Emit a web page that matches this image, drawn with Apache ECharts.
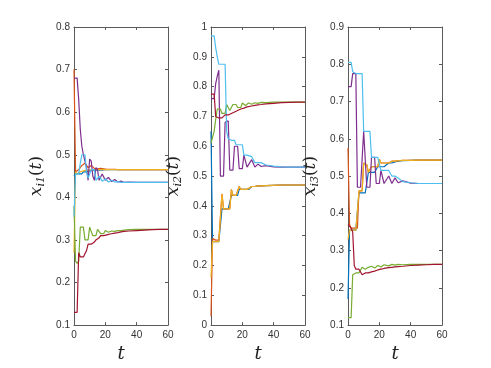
<!DOCTYPE html>
<html>
<head>
<meta charset="utf-8">
<script src="https://cdn.jsdelivr.net/npm/echarts@6/dist/echarts.min.js"></script>
<style>
  html, body { margin: 0; padding: 0; background: #fff; }
  #chart { width: 491px; height: 368px; }
</style>
</head>
<body>
<div id="chart"></div>
<script>
// sample times shared by every curve
const T = [0,1,2,3,4,5,6,7,8,9,10,11,12,13,14,15,16,17,18,19,20,21,22,23,24,26,28,30,32,35,40,45,50,55,60];

// panel 1: x_i1(t)
const x1Blue   = [0.45,0.455,0.455,0.455,0.455,0.455,0.46,0.46,0.46,0.462,0.462,0.463,0.463,0.463,0.464,0.464,0.464,0.464,0.464,0.465,0.465,0.465,0.465,0.465,0.465,0.465,0.465,0.465,0.465,0.465,0.465,0.465,0.465,0.465,0.465];
const x1Orange = [0.70,0.46,0.46,0.465,0.47,0.475,0.478,0.48,0.475,0.47,0.47,0.475,0.472,0.468,0.467,0.467,0.466,0.468,0.47,0.467,0.466,0.466,0.466,0.466,0.465,0.466,0.465,0.465,0.465,0.465,0.465,0.465,0.465,0.465,0.465];
const x1Yellow = [0.27,0.46,0.455,0.455,0.46,0.46,0.462,0.463,0.464,0.464,0.464,0.465,0.465,0.465,0.465,0.465,0.465,0.465,0.465,0.465,0.465,0.465,0.465,0.465,0.465,0.465,0.465,0.465,0.465,0.465,0.465,0.465,0.465,0.465,0.465];
const x1Purple = [0.68,0.68,0.68,0.63,0.56,0.52,0.50,0.50,0.47,0.44,0.49,0.485,0.45,0.44,0.47,0.465,0.44,0.44,0.455,0.455,0.44,0.438,0.447,0.445,0.437,0.442,0.436,0.438,0.435,0.436,0.435,0.435,0.435,0.435,0.435];
const x1Green  = [0.38,0.25,0.245,0.25,0.33,0.33,0.33,0.30,0.30,0.30,0.33,0.33,0.31,0.31,0.31,0.325,0.325,0.315,0.315,0.315,0.322,0.322,0.318,0.318,0.321,0.32,0.322,0.322,0.323,0.324,0.325,0.325,0.325,0.325,0.325];
const x1Cyan   = [0.355,0.455,0.455,0.455,0.48,0.50,0.50,0.50,0.46,0.445,0.445,0.465,0.465,0.465,0.44,0.44,0.45,0.45,0.438,0.438,0.443,0.443,0.436,0.436,0.44,0.436,0.437,0.435,0.435,0.435,0.435,0.435,0.435,0.435,0.435];
const x1Red    = [0.13,0.13,0.13,0.27,0.26,0.26,0.26,0.26,0.275,0.29,0.29,0.29,0.29,0.295,0.30,0.30,0.305,0.31,0.31,0.31,0.312,0.312,0.313,0.314,0.315,0.316,0.317,0.319,0.32,0.321,0.322,0.323,0.324,0.325,0.325];

// panel 2: x_i2(t)
const x2Blue   = [0.65,0.28,0.28,0.28,0.28,0.28,0.28,0.39,0.39,0.39,0.39,0.39,0.39,0.435,0.435,0.435,0.435,0.435,0.455,0.455,0.455,0.455,0.455,0.455,0.455,0.465,0.465,0.467,0.467,0.468,0.469,0.47,0.47,0.47,0.47];
const x2Orange = [0.03,0.29,0.285,0.285,0.285,0.285,0.285,0.44,0.39,0.39,0.39,0.39,0.39,0.455,0.435,0.435,0.435,0.435,0.465,0.455,0.455,0.455,0.455,0.455,0.455,0.465,0.465,0.467,0.467,0.468,0.469,0.47,0.47,0.47,0.47];
const x2Yellow = [0.16,0.28,0.28,0.28,0.28,0.28,0.28,0.44,0.39,0.39,0.39,0.39,0.39,0.455,0.435,0.435,0.435,0.435,0.465,0.455,0.455,0.455,0.455,0.455,0.455,0.465,0.465,0.467,0.467,0.468,0.469,0.47,0.47,0.47,0.47];
const x2Purple = [0.76,0.76,0.76,0.81,0.835,0.855,0.50,0.50,0.50,0.68,0.685,0.685,0.52,0.52,0.52,0.60,0.60,0.60,0.525,0.525,0.525,0.57,0.57,0.53,0.53,0.555,0.53,0.54,0.532,0.535,0.531,0.53,0.53,0.53,0.53];
const x2Green  = [0.61,0.61,0.65,0.69,0.725,0.725,0.725,0.71,0.71,0.71,0.74,0.74,0.72,0.72,0.74,0.74,0.74,0.73,0.73,0.73,0.745,0.745,0.737,0.737,0.745,0.741,0.746,0.744,0.747,0.746,0.748,0.748,0.748,0.748,0.748];
const x2Cyan   = [0.97,0.97,0.97,0.93,0.90,0.875,0.875,0.875,0.875,0.875,0.65,0.625,0.62,0.62,0.62,0.62,0.605,0.605,0.605,0.605,0.605,0.57,0.57,0.57,0.57,0.565,0.545,0.545,0.545,0.537,0.533,0.531,0.53,0.53,0.53];
const x2Red    = [0.775,0.775,0.775,0.70,0.70,0.695,0.695,0.695,0.70,0.705,0.705,0.705,0.71,0.71,0.71,0.715,0.72,0.72,0.722,0.725,0.727,0.728,0.73,0.732,0.733,0.735,0.737,0.739,0.74,0.742,0.744,0.746,0.747,0.748,0.748];

// panel 3: x_i3(t)
const x3Blue   = [0.17,0.355,0.355,0.355,0.355,0.355,0.355,0.455,0.455,0.455,0.455,0.455,0.455,0.51,0.51,0.51,0.51,0.51,0.51,0.525,0.525,0.525,0.525,0.525,0.525,0.535,0.535,0.538,0.54,0.541,0.542,0.543,0.543,0.543,0.543];
const x3Orange = [0.575,0.37,0.36,0.36,0.36,0.36,0.36,0.46,0.46,0.46,0.535,0.535,0.53,0.51,0.51,0.525,0.525,0.525,0.525,0.525,0.545,0.535,0.535,0.535,0.535,0.535,0.54,0.54,0.541,0.542,0.542,0.543,0.543,0.543,0.543];
const x3Yellow = [0.33,0.355,0.355,0.355,0.355,0.355,0.355,0.46,0.46,0.46,0.535,0.535,0.53,0.51,0.51,0.525,0.525,0.525,0.525,0.525,0.545,0.535,0.535,0.535,0.535,0.535,0.54,0.54,0.541,0.542,0.542,0.543,0.543,0.543,0.543];
const x3Purple = [0.74,0.74,0.74,0.775,0.775,0.775,0.47,0.47,0.47,0.47,0.62,0.62,0.47,0.47,0.47,0.55,0.55,0.55,0.48,0.48,0.48,0.515,0.515,0.48,0.48,0.50,0.48,0.495,0.482,0.487,0.481,0.48,0.48,0.48,0.48];
const x3Green  = [0.12,0.12,0.12,0.235,0.24,0.24,0.24,0.24,0.24,0.255,0.25,0.25,0.255,0.255,0.25,0.258,0.258,0.253,0.253,0.26,0.26,0.256,0.256,0.262,0.262,0.259,0.263,0.261,0.263,0.262,0.263,0.263,0.263,0.263,0.263];
const x3Cyan   = [0.805,0.805,0.805,0.78,0.775,0.775,0.775,0.775,0.775,0.775,0.62,0.62,0.62,0.62,0.62,0.55,0.55,0.55,0.55,0.55,0.55,0.515,0.515,0.515,0.515,0.515,0.50,0.50,0.495,0.485,0.482,0.48,0.48,0.48,0.48];
const x3Red    = [0.37,0.37,0.36,0.35,0.26,0.25,0.25,0.25,0.25,0.235,0.24,0.24,0.24,0.24,0.24,0.243,0.245,0.245,0.247,0.248,0.25,0.25,0.251,0.252,0.253,0.254,0.255,0.256,0.257,0.258,0.26,0.261,0.262,0.263,0.263];

const COLORS = ['#0072BD','#D95319','#EDB120','#7E2F8E','#77AC30','#4DBEEE','#A2142F'];
const panels = [
  { left: 74,  ymin: 0.1, ymax: 0.8, sub: 'i1', lines: [x1Blue,x1Orange,x1Yellow,x1Purple,x1Green,x1Cyan,x1Red] },
  { left: 211, ymin: 0,   ymax: 1,   sub: 'i2', lines: [x2Blue,x2Orange,x2Yellow,x2Purple,x2Green,x2Cyan,x2Red] },
  { left: 348, ymin: 0.1, ymax: 0.9, sub: 'i3', lines: [x3Blue,x3Orange,x3Yellow,x3Purple,x3Green,x3Cyan,x3Red] }
];

const axisColor = '#5a5a5a';
const labelStyle = { color: '#333', fontSize: 10, fontFamily: 'Liberation Sans' };
const tickFmt = v => String(Math.round(v * 10) / 10);

const grid = [], xAxis = [], yAxis = [], series = [];
panels.forEach((p, i) => {
  grid.push({ left: p.left, top: 27, width: 94, height: 300 });
  const common = {
    gridIndex: i, type: 'value',
    axisLine: { show: true, onZero: false, lineStyle: { color: axisColor, width: 1 } },
    axisTick: { show: true, inside: true, length: 3, lineStyle: { color: axisColor } },
    splitLine: { show: false }
  };
  xAxis.push(Object.assign({}, common, {
    position: 'bottom', min: 0, max: 60, interval: 20,
    axisLabel: Object.assign({ margin: 5 }, labelStyle),
    name: 't', nameLocation: 'middle', nameGap: 18,
    nameTextStyle: { fontFamily: 'DejaVu Serif', fontStyle: 'italic', fontSize: 18, color: '#222' }
  }));
  xAxis.push(Object.assign({}, common, {
    position: 'top', min: 0, max: 60, interval: 20, axisLabel: { show: false }
  }));
  yAxis.push(Object.assign({}, common, {
    position: 'left', min: p.ymin, max: p.ymax, interval: 0.1,
    axisLabel: Object.assign({ margin: 4, formatter: tickFmt }, labelStyle),
    name: '{a|x}{b|' + p.sub + '}{p|(}{a|t}{p|)}',
    nameLocation: 'middle', nameGap: 27, nameRotate: 90,
    nameTextStyle: {
      color: '#222',
      rich: {
        a: { fontFamily: 'DejaVu Serif', fontStyle: 'italic', fontSize: 17, lineHeight: 21, color: '#222' },
        b: { fontFamily: 'DejaVu Serif', fontStyle: 'italic', fontSize: 11, lineHeight: 11, verticalAlign: 'bottom', color: '#222' },
        p: { fontFamily: 'DejaVu Serif', fontSize: 17, lineHeight: 21, color: '#222' }
      }
    }
  }));
  yAxis.push(Object.assign({}, common, {
    position: 'right', min: p.ymin, max: p.ymax, interval: 0.1, axisLabel: { show: false }
  }));
  p.lines.forEach((vals, k) => {
    series.push({
      type: 'line', xAxisIndex: 2 * i, yAxisIndex: 2 * i,
      data: T.map((t, j) => [t, vals[j]]),
      showSymbol: false, symbol: 'none',
      lineStyle: { color: COLORS[k], width: 1.2 },
      itemStyle: { color: COLORS[k] }
    });
  });
});

const chart = echarts.init(document.getElementById('chart'));
chart.setOption({
  backgroundColor: '#fff',
  animation: false,
  grid, xAxis, yAxis, series
});
</script>
</body>
</html>
